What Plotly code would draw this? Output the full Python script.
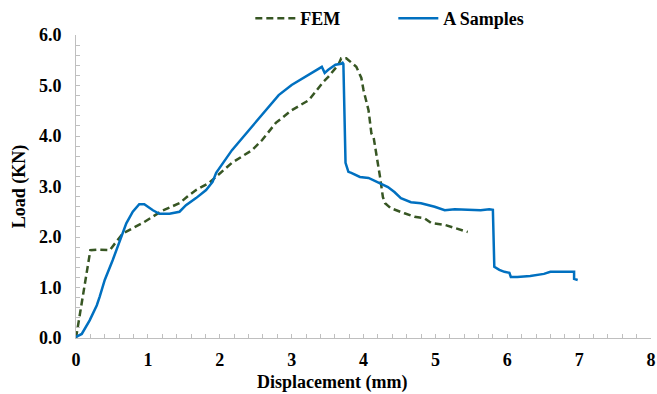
import plotly.graph_objects as go

# Load–displacement curves (displacement in mm, load in kN)
fem_disp = [0.0, 0.20, 0.30, 0.47, 0.65, 0.93, 1.20, 1.44, 1.55, 1.67, 1.85, 1.90, 2.17, 2.45,
            2.59, 2.78, 3.00, 3.24, 3.44, 3.51, 3.65, 3.69, 3.76, 3.90, 3.97, 4.00, 4.07, 4.11,
            4.14, 4.23, 4.27, 4.30, 4.38, 4.57, 4.71, 4.85, 4.94, 5.13, 5.27, 5.45]
fem_load = [0.0, 1.74, 1.75, 1.74, 2.07, 2.28, 2.52, 2.67, 2.80, 2.93, 3.07, 3.13, 3.47, 3.72,
            3.92, 4.26, 4.51, 4.71, 5.07, 5.17, 5.41, 5.54, 5.54, 5.37, 5.15, 4.91, 4.51, 4.05,
            3.98, 3.19, 2.79, 2.67, 2.57, 2.47, 2.40, 2.37, 2.28, 2.24, 2.18, 2.10]

a_disp = [0.0, 0.08, 0.19, 0.29, 0.33, 0.40, 0.51, 0.63, 0.70, 0.79, 0.88, 0.95, 1.07, 1.16,
          1.30, 1.44, 1.53, 1.67, 1.81, 1.90, 1.95, 2.17, 2.41, 2.64, 2.82, 3.00, 3.19, 3.42,
          3.46, 3.51, 3.61, 3.69, 3.71, 3.72, 3.75, 3.79, 3.83, 3.95, 4.07, 4.20, 4.34, 4.43,
          4.52, 4.66, 4.80, 4.99, 5.13, 5.27, 5.63, 5.75, 5.80, 5.82, 5.89, 5.96, 6.03, 6.05,
          6.14, 6.32, 6.51, 6.60, 6.93, 6.93, 6.98]
a_load = [0.02, 0.08, 0.35, 0.65, 0.82, 1.15, 1.54, 2.00, 2.27, 2.50, 2.65, 2.65, 2.53, 2.46,
          2.46, 2.50, 2.63, 2.77, 2.93, 3.09, 3.27, 3.72, 4.12, 4.51, 4.81, 5.01, 5.17, 5.37,
          5.25, 5.31, 5.41, 5.43, 5.45, 5.43, 3.47, 3.29, 3.27, 3.19, 3.17, 3.08, 2.99, 2.89,
          2.77, 2.69, 2.67, 2.60, 2.53, 2.55, 2.53, 2.55, 2.54, 1.41, 1.35, 1.31, 1.29, 1.21,
          1.21, 1.23, 1.27, 1.31, 1.31, 1.17, 1.15]

x_ticks = [0, 1, 2, 3, 4, 5, 6, 7, 8]
y_ticks = [0.0, 1.0, 2.0, 3.0, 4.0, 5.0, 6.0]

serif = "Liberation Serif"
bold = dict(family=serif, size=18, color="#000000", weight="bold")

fig = go.Figure()
fig.add_trace(go.Scatter(x=fem_disp, y=fem_load, mode="lines", name="FEM",
                         line=dict(color="#375623", width=2.5, dash="7px,4px")))
fig.add_trace(go.Scatter(x=a_disp, y=a_load, mode="lines", name="A Samples",
                         line=dict(color="#0070C0", width=2.5)))

axis_common = dict(showline=True, linecolor="#BFBFBF", linewidth=1, showgrid=False,
                   zeroline=False, ticks="inside", ticklen=4, tickcolor="#BFBFBF",
                   tickfont=bold)

fig.update_xaxes(range=[0, 8], tickvals=x_ticks, ticktext=[str(v) for v in x_ticks],
                 minor=dict(ticks="inside", dtick=0.2, ticklen=4, tickcolor="#BFBFBF"),
                 ticklabelstandoff=5, **axis_common)
fig.update_yaxes(range=[0, 6], tickvals=y_ticks, ticktext=[f"{v:.1f}" for v in y_ticks],
                 minor=dict(ticks="inside", dtick=0.2, ticklen=4, tickcolor="#BFBFBF"),
                 title=dict(text="Load (KN)", font=bold, standoff=8),
                 ticklabelstandoff=10, **axis_common)

# Horizontal axis title, placed a little left of the plot-area centre
fig.add_annotation(text="Displacement (mm)", xref="paper", yref="paper",
                   x=0.445, y=-0.1485, xanchor="center", yanchor="middle",
                   showarrow=False, font=bold)

fig.update_layout(
    width=657, height=394,
    margin=dict(l=76, r=6, t=35, b=56, autoexpand=False),
    paper_bgcolor="white", plot_bgcolor="white",
    showlegend=True,
    legend=dict(orientation="h", xref="container", yref="container",
                x=0.381, y=1.0, xanchor="left", yanchor="top",
                font=bold, itemwidth=40, entrywidth=88, bgcolor="rgba(0,0,0,0)"),
)

fig.write_html("out.html")
